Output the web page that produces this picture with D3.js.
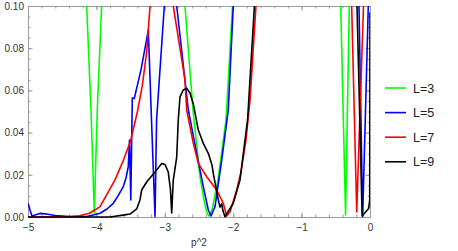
<!DOCTYPE html>
<html>
<head>
<meta charset="utf-8">
<script src="https://cdn.jsdelivr.net/npm/d3@7"></script>
<style>
  body { margin: 0; background: #fff; }
  svg { display: block; font-family: "Liberation Sans", Arial, sans-serif; }
  .axis path, .axis line { stroke: #9a9a9a; }
  .axis text { fill: #333; font-size: 10px; }
</style>
</head>
<body>
<div id="chart"></div>
<script>
// series values, [p^2, value]; null = curve leaves the plot range
const L3 = [
  [-4.155, 0.11], [-4.142, 0.1], [-4.079, 0.0507], [-4.031, 0.0019], [-3.987, 0.0507], [-3.923, 0.1], [-3.91, 0.11], null,
  [-2.72, 0.11], [-2.705, 0.1], [-2.588, 0.0507], [-2.485, 0.0191], [-2.427, 0.0081], [-2.383, 0.0019], [-2.354, 0.0005],
  [-2.31, 0.0033], [-2.222, 0.0175], [-2.105, 0.046], [-2.01, 0.1], [-2.0, 0.11], null,
  [-0.436, 0.11], [-0.428, 0.1], [-0.357, 0.001], [-0.303, 0.1], [-0.296, 0.11]
];
const L5 = [
  [-5, 0.0065], [-4.971, 0.0033], [-4.942, 0.0005], [-4.898, 0.0009], [-4.825, 0.0017], [-4.751, 0.0015], [-4.605, 0.0007],
  [-4.386, 0.0002], [-4.142, 0.0002], [-4.05, 0.0009], [-3.947, 0.0018], [-3.845, 0.0038], [-3.753, 0.0065], [-3.684, 0.01],
  [-3.607, 0.0144], [-3.567, 0.0185], [-3.534, 0.0238], [-3.516, 0.0365], [-3.497, 0.0081], [-3.475, 0.0564], [-3.446, 0.0562],
  [-3.348, 0.0697], [-3.241, 0.0886], [-3.197, 0.0483], [-3.143, 0.0002], [-3.12, 0.046], [-3.007, 0.1], [-3.0, 0.105], null,
  [-2.84, 0.108], [-2.826, 0.1], [-2.656, 0.0507], [-2.534, 0.0302], [-2.437, 0.0144], [-2.364, 0.0033], [-2.325, 0.0005],
  [-2.266, 0.0049], [-2.168, 0.027], [-2.072, 0.0507], [-1.999, 0.1], [-1.99, 0.11], null,
  [-0.165, 0.11], [-0.161, 0.1], [-0.107, 0.0002], [-0.025, 0.1], [-0.02, 0.106]
];
const L7 = [
  [-5, 0], [-4.6, 0], [-4.4, 0.0001], [-4.25, 0.0006], [-4.1, 0.0018], [-3.95, 0.0048], [-3.85, 0.0105], [-3.73, 0.0175],
  [-3.61, 0.0265], [-3.5, 0.036], [-3.4, 0.05], [-3.33, 0.062], [-3.265, 0.0782], [-3.216, 0.1], [-3.21, 0.11], null,
  [-2.885, 0.11], [-2.876, 0.1], [-2.705, 0.065], [-2.68, 0.0507], [-2.583, 0.0349], [-2.51, 0.0254], [-2.387, 0.0191],
  [-2.241, 0.0128], [-2.145, 0.0065], [-2.095, 0.0005], [-2.047, 0.0024], [-1.949, 0.0128], [-1.886, 0.0213],
  [-1.813, 0.0365], [-1.754, 0.0555], [-1.667, 0.1], [-1.65, 0.107], null,
  [-0.275, 0.11], [-0.268, 0.1], [-0.194, 0.0024], [-0.095, 0.1], [-0.09, 0.105]
];
const L9 = [
  [-5, 0], [-3.8, 0], [-3.607, 0.0009], [-3.509, 0.0014], [-3.411, 0.0038], [-3.363, 0.0081], [-3.338, 0.0128],
  [-3.265, 0.0166], [-3.143, 0.0213], [-3.045, 0.0254], [-2.997, 0.0249], [-2.949, 0.0213], [-2.917, 0.0128],
  [-2.899, 0.0019], [-2.876, 0.0175], [-2.826, 0.0284], [-2.803, 0.046], [-2.778, 0.0569], [-2.73, 0.0602],
  [-2.68, 0.061], [-2.632, 0.0588], [-2.583, 0.0536], [-2.51, 0.0412], [-2.437, 0.0349], [-2.364, 0.0302],
  [-2.31, 0.0246], [-2.291, 0.0207], [-2.218, 0.0081], [-2.193, 0.0047], [-2.168, 0.0062], [-2.149, 0.0028],
  [-2.12, 0.0001], [-1.999, 0.0065], [-1.901, 0.0175], [-1.79, 0.046], [-1.69, 0.1], [-1.68, 0.106], null,
  [-0.196, 0.11], [-0.19, 0.1], [-0.115, 0.0005], [-0.02, 0.004], [-0.004, 0.008], [0, 0.097]
];

const seriesNames = ["L=3", "L=5", "L=7", "L=9"];
const seriesData = [L3, L5, L7, L9];
const seriesColors = ["#00ff00", "#0000ff", "#ff0000", "#000000"];

const xMajor = [-5, -4, -3, -2, -1, 0];
const yMajor = [0, 0.02, 0.04, 0.06, 0.08, 0.1];

const svgW = 458, svgH = 251;
const margin = { top: 6, right: 88, bottom: 34, left: 28 },
      width = svgW - margin.left - margin.right,
      height = svgH - margin.top - margin.bottom;

const x = d3.scaleLinear().domain([-5, 0]).range([0, width]);
const y = d3.scaleLinear().domain([0, 0.1]).range([height, 0]);

const svg = d3.select("#chart").append("svg")
    .attr("width", svgW)
    .attr("height", svgH);

const g = svg.append("g")
    .attr("transform", "translate(" + margin.left + "," + margin.top + ")");

g.append("clipPath").attr("id", "clip")
  .append("rect")
    .attr("x", 0).attr("y", 0)
    .attr("width", width).attr("height", height + 1.2);

const xMinor = d3.range(-5, 0.001, 0.2);
const yMinor = d3.range(0, 0.1001, 0.005);
const fmtX = d => d === 0 ? "0" : "\u2212" + Math.abs(d);

// frame: bottom / left with labels, top / right ticks only
g.append("g").attr("class", "axis")
    .attr("transform", "translate(0," + height + ")")
    .call(d3.axisBottom(x).tickValues(xMinor).tickSize(-2.5).tickSizeOuter(0).tickFormat(""));
g.append("g").attr("class", "axis")
    .attr("transform", "translate(0," + height + ")")
    .call(d3.axisBottom(x).tickValues(xMajor).tickSize(-4.5).tickSizeOuter(0).tickPadding(7).tickFormat(fmtX));
g.append("g").attr("class", "axis")
    .call(d3.axisTop(x).tickValues(xMinor).tickSize(-2.5).tickSizeOuter(0).tickFormat(""));
g.append("g").attr("class", "axis")
    .call(d3.axisTop(x).tickValues(xMajor).tickSize(-4.5).tickSizeOuter(0).tickFormat(""));

g.append("g").attr("class", "axis")
    .call(d3.axisLeft(y).tickValues(yMinor).tickSize(-2.5).tickSizeOuter(0).tickFormat(""));
g.append("g").attr("class", "axis")
    .call(d3.axisLeft(y).tickValues(yMajor).tickSize(-4.5).tickSizeOuter(0).tickPadding(4).tickFormat(d3.format(".2f")));
g.append("g").attr("class", "axis")
    .attr("transform", "translate(" + width + ",0)")
    .call(d3.axisRight(y).tickValues(yMinor).tickSize(-2.5).tickSizeOuter(0).tickFormat(""));
g.append("g").attr("class", "axis")
    .attr("transform", "translate(" + width + ",0)")
    .call(d3.axisRight(y).tickValues(yMajor).tickSize(-4.5).tickSizeOuter(0).tickFormat(""));

g.selectAll(".axis text").style("font-size", "10px");

// curves
const line = d3.line()
    .defined(d => d !== null)
    .x(d => x(d[0]))
    .y(d => y(d[1]));

const plot = g.append("g").attr("clip-path", "url(#clip)");
seriesData.forEach(function(s, i) {
  plot.append("path")
      .datum(s)
      .attr("fill", "none")
      .attr("stroke", seriesColors[i])
      .attr("stroke-width", 1.6)
      .attr("stroke-linejoin", "round")
      .attr("d", line);
});

// axis label
g.append("text")
    .attr("x", width / 2)
    .attr("y", height + 29)
    .style("text-anchor", "middle")
    .style("font-size", "10px")
    .attr("fill", "#333")
    .text("p^2");

// legend
const legend = svg.append("g").attr("transform", "translate(385,88)");
seriesNames.forEach(function(name, i) {
  const row = legend.append("g").attr("transform", "translate(0," + (i * 24.6) + ")");
  row.append("line")
      .attr("x1", 0).attr("x2", 21)
      .attr("stroke", seriesColors[i])
      .attr("stroke-width", 1.6);
  row.append("text")
      .attr("x", 28)
      .attr("dy", "0.36em")
      .style("font-size", "12.5px")
      .attr("fill", "#222")
      .text(name);
});
</script>
</body>
</html>
